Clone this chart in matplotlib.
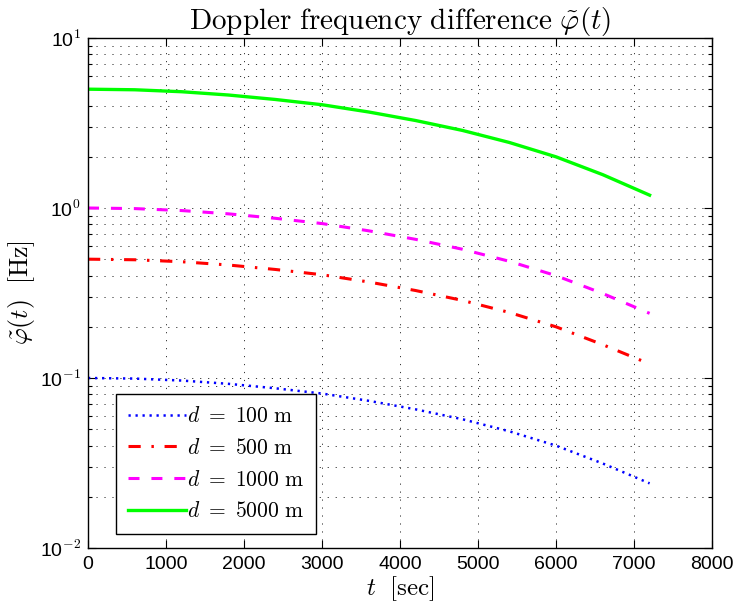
import numpy as np
import matplotlib
matplotlib.use('Agg')
import matplotlib.pyplot as plt
from matplotlib.ticker import LogLocator, NullFormatter, FixedLocator, FixedFormatter

plt.rcParams['mathtext.fontset'] = 'cm'
plt.rcParams['font.family'] = ['Liberation Sans', 'DejaVu Sans']

# значения
t = [0, 600, 1200, 1800, 2400, 3000, 3600, 4200, 4800, 5400, 6000, 6600, 7200]
phi_100 = [0.100, 0.0992, 0.0966, 0.0924, 0.0870, 0.0810, 0.0734, 0.0654, 0.0572, 0.0486, 0.0400, 0.0314, 0.0240]
phi_500 = [0.500, 0.496, 0.483, 0.462, 0.435, 0.405, 0.367, 0.327, 0.286, 0.243, 0.200, 0.157, 0.121]
phi_1000 = [1.00, 0.992, 0.966, 0.924, 0.870, 0.810, 0.734, 0.654, 0.572, 0.486, 0.400, 0.314, 0.240]
phi_5000 = [5.00, 4.96, 4.83, 4.62, 4.35, 4.05, 3.67, 3.27, 2.86, 2.43, 2.00, 1.57, 1.19]

legend_labels = [r'$d\ =\ 100\ \mathrm{m}$', r'$d\ =\ 500\ \mathrm{m}$',
                 r'$d\ =\ 1000\ \mathrm{m}$', r'$d\ =\ 5000\ \mathrm{m}$']
x_ticks = [0, 1000, 2000, 3000, 4000, 5000, 6000, 7000, 8000]
y_ticks = [1e-2, 1e-1, 1e0, 1e1]
y_tick_labels = ['10$^{\\mathsf{-2}}$', '10$^{\\mathsf{-1}}$', '10$^{\\mathsf{0}}$', '10$^{\\mathsf{1}}$']

fig = plt.figure(figsize=(7.36, 6.12), dpi=100)
ax = fig.add_axes([0.1196, 0.1046, 0.8478, 0.8333])

ax.plot(t, phi_100, color='blue', lw=1.8, linestyle=(0, (0.9, 1.9)), label=legend_labels[0])
ax.plot(t, phi_500, color='red', lw=2.2, linestyle=(0, (4, 3.5, 0.8, 3.5)), label=legend_labels[1])
ax.plot(t, phi_1000, color='magenta', lw=2.2, linestyle=(0, (3.6, 3.9)), label=legend_labels[2])
ax.plot(t, phi_5000, color='#00ff00', lw=2.4, linestyle='-', label=legend_labels[3])

ax.set_yscale('log')
ax.set_xlim(0, 8000)
ax.set_ylim(1e-2, 1e1)

ax.xaxis.set_major_locator(FixedLocator(x_ticks))
ax.yaxis.set_major_locator(FixedLocator(y_ticks))
ax.yaxis.set_major_formatter(FixedFormatter(y_tick_labels))
ax.yaxis.set_minor_locator(LogLocator(base=10, subs=np.arange(2, 10)))
ax.yaxis.set_minor_formatter(NullFormatter())

ax.tick_params(which='both', direction='in', top=True, right=True, labelsize=14, width=0.8)
ax.tick_params(which='major', length=6)
ax.tick_params(which='minor', length=3)
ax.tick_params(axis='x', pad=6)
ax.tick_params(axis='y', pad=5)

ax.grid(True, which='major', color='0.2', lw=0.7, linestyle=(0, (1.2, 7)))
ax.grid(True, which='minor', axis='y', color='0.2', lw=0.7, linestyle=(0, (1.2, 7)))
for s in ax.spines.values():
    s.set_linewidth(1.0)

ax.set_title(r'$\mathrm{Doppler\ frequency\ difference}\ \tilde{\varphi}(t)$', fontsize=21, pad=5)
ax.set_xlabel(r'$t\ \ [\mathrm{sec}]$', fontsize=18, labelpad=1)
ax.set_ylabel(r'$\tilde{\varphi}(t)\ \ [\mathrm{Hz}]$', fontsize=18.5, labelpad=2)

leg = ax.legend(loc='lower left', bbox_to_anchor=(0.045, 0.027), fontsize=15.5,
                fancybox=False, framealpha=1, edgecolor='black', handlelength=2.7,
                handletextpad=0.05, labelspacing=0.5, borderpad=0.55, borderaxespad=0)
leg.get_frame().set_linewidth(1.0)

fig.savefig('out.png', dpi=100)
